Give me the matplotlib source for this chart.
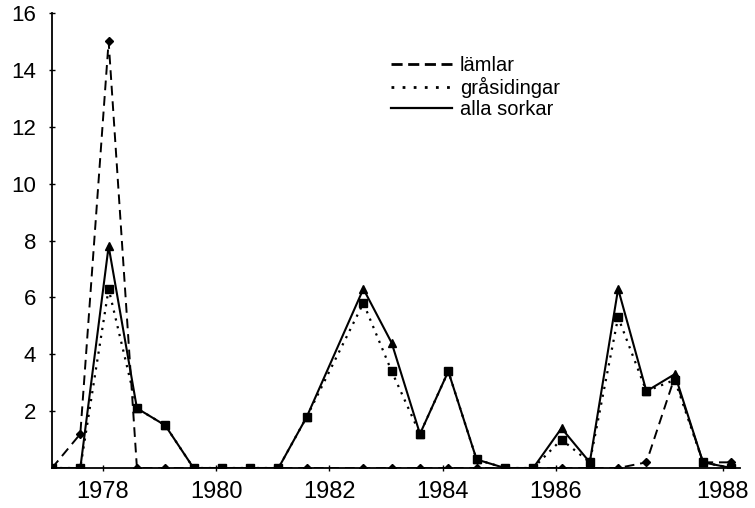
import matplotlib
matplotlib.use("Agg")
import matplotlib.pyplot as plt
from matplotlib.lines import Line2D

plt.rcParams['font.family'] = ['Liberation Sans', 'DejaVu Sans']

# sampling dates (spring / autumn), no sample in spring 1982
years = [1977.1, 1977.6, 1978.1, 1978.6, 1979.1, 1979.6, 1980.1, 1980.6,
         1981.1, 1981.6, 1982.6, 1983.1, 1983.6, 1984.1, 1984.6, 1985.1,
         1985.6, 1986.1, 1986.6, 1987.1, 1987.6, 1988.1, 1988.6, 1989.1]

lamlar = [0, 1.2, 15, 0, 0, 0, 0, 0, 0, 0, 0, 0,
          0, 0, 0, 0, 0, 0, 0, 0, 0.2, 3.2, 0.2, 0.2]
grasidingar = [0, 0, 6.3, 2.1, 1.5, 0, 0, 0, 0, 1.8, 5.8, 3.4,
               1.2, 3.4, 0.3, 0, 0, 1.0, 0.2, 5.3, 2.7, 3.1, 0.2, 0]
alla_sorkar = [0, 0, 7.8, 2.1, 1.5, 0, 0, 0, 0, 1.8, 6.3, 4.4,
               1.2, 3.4, 0.3, 0, 0, 1.4, 0.2, 6.3, 2.7, 3.3, 0.2, 0]

xtick_pos = [1978, 1980, 1982, 1984, 1986, 1988.95]
xtick_lab = ['1978', '1980', '1982', '1984', '1986', '1988']
ytick_pos = [2, 4, 6, 8, 10, 12, 14, 16]

fig = plt.figure(figsize=(7.55, 5.08), dpi=100)
ax = fig.add_axes([0.0689, 0.0787, 0.911, 0.8957])

dash = (0, (5, 3))
dot = (0, (1, 2.6))

ax.plot(years, alla_sorkar, color='black', lw=1.5, marker='^', ms=6, zorder=3)
ax.plot(years, grasidingar, color='black', lw=1.6, ls=dot, marker='s', ms=5.5, zorder=4)
ax.plot(years, lamlar, color='black', lw=1.4, ls=dash, marker='D', ms=4, zorder=2)

ax.set_xlim(1977.1, 1989.25)
ax.set_ylim(0, 16)
ax.set_xticks(xtick_pos)
ax.set_xticklabels(xtick_lab)
ax.set_yticks(ytick_pos)

for s in ['top', 'right']:
    ax.spines[s].set_visible(False)
ax.spines['left'].set_linewidth(1.3)
ax.spines['bottom'].set_linewidth(1.3)
ax.tick_params(axis='both', direction='inout', length=5, width=1, color='black')
ax.tick_params(axis='y', labelsize=16, pad=9)
ax.tick_params(axis='x', labelsize=17, pad=7)

handles = [Line2D([], [], color='black', lw=2, ls=(0, (4, 2))),
           Line2D([], [], color='black', lw=2, ls=(0, (1, 3))),
           Line2D([], [], color='black', lw=1.6)]
leg = fig.legend(handles, ['lämlar', 'gråsidingar', 'alla sorkar'],
                 loc='upper left', bbox_to_anchor=(0.505, 0.91),
                 frameon=False, fontsize=14.5, handlelength=3.0,
                 handletextpad=0.4, labelspacing=0.1, borderpad=0)

fig.savefig('out.png', dpi=100)
